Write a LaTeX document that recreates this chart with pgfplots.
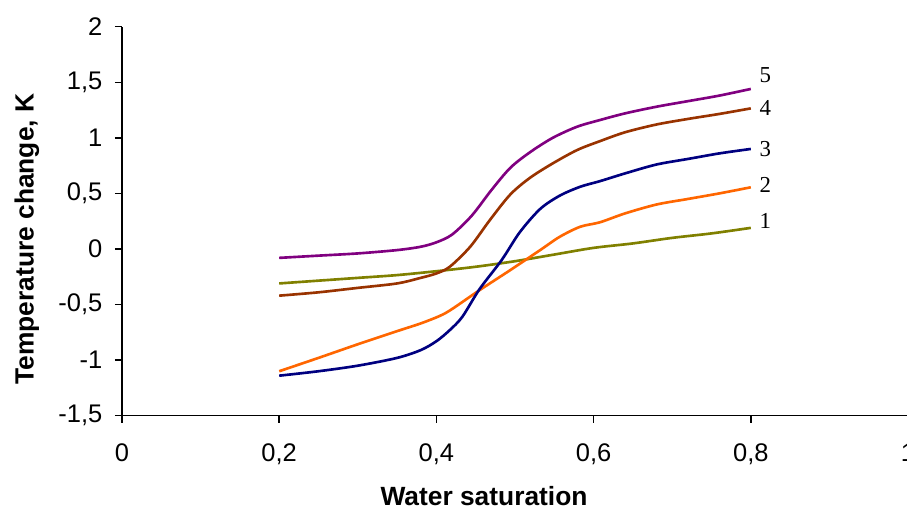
\documentclass[border=0pt]{standalone}
\usepackage{pgfplots}
\pgfplotsset{compat=1.18}
\usepackage{fontspec}
\setmainfont{Liberation Sans}
\newfontfamily\numfont{Liberation Serif}

\definecolor{c1}{RGB}{128,128,0}
\definecolor{c2}{RGB}{255,102,0}
\definecolor{c3}{RGB}{0,0,128}
\definecolor{c4}{RGB}{153,51,0}
\definecolor{c5}{RGB}{128,0,128}

\begin{document}
\begin{tikzpicture}
\begin{axis}[
    scale only axis, width=15.72cm, height=7.78cm,
    xmin=0, xmax=1, ymin=-1.5, ymax=2,
    xtick distance=0.2, ytick distance=0.5,
    axis x line*=bottom, axis y line*=left,
    axis line style={-, line width=0.8pt},
    tick align=outside, major tick length=0.14cm,
    tick style={black, line width=0.8pt},
    /pgf/number format/.cd, use comma, fixed, assume math mode=true,
    /pgfplots/.cd,
    tick label style={font=\fontsize{14.5}{17}\selectfont},
    xticklabel style={yshift=-0.3cm},
    yticklabel style={xshift=-0.13cm},
    xlabel={Water saturation},
    ylabel={Temperature change, K},
    every axis x label/.style={at={(axis description cs:0.4606,0)}, anchor=center, yshift=-1.6cm,
        font=\fontsize{15}{18}\selectfont\bfseries},
    every axis y label/.style={at={(axis description cs:-0.1209,0.454)}, anchor=center, rotate=90,
        font=\fontsize{15}{18}\selectfont\bfseries},
    every axis plot/.append style={line width=1.5pt, smooth, no markers},
    clip=false,
]
% 1
\addplot[c1] coordinates {
(0.2,-0.31) (0.25,-0.285) (0.3,-0.26) (0.35,-0.235) (0.4,-0.20) (0.45,-0.16)
(0.5,-0.11) (0.55,-0.05) (0.6,0.01) (0.65,0.05) (0.7,0.10) (0.75,0.14) (0.8,0.19)
} node[pos=1, anchor=west, xshift=1pt, yshift=0.14cm, text=black, font=\numfont\fontsize{13}{15}\selectfont] {1};
% 2
\addplot[c2] coordinates {
(0.2,-1.10) (0.25,-0.98) (0.303,-0.85) (0.354,-0.73) (0.38,-0.67) (0.405,-0.60)
(0.42,-0.54) (0.455,-0.37) (0.494,-0.19) (0.532,-0.01) (0.557,0.11) (0.583,0.20)
(0.608,0.24) (0.64,0.32) (0.68,0.40) (0.72,0.45) (0.76,0.50) (0.8,0.555)
} node[pos=1, anchor=west, xshift=1pt, yshift=0.04cm, text=black, font=\numfont\fontsize{13}{15}\selectfont] {2};
% 3
\addplot[c3] coordinates {
(0.2,-1.14) (0.25,-1.10) (0.3,-1.05) (0.35,-0.98) (0.38,-0.91) (0.4,-0.83)
(0.417,-0.73) (0.433,-0.61) (0.455,-0.36) (0.483,-0.10) (0.506,0.15) (0.532,0.36)
(0.557,0.48) (0.583,0.56) (0.608,0.61) (0.64,0.68) (0.68,0.76) (0.72,0.81)
(0.76,0.86) (0.8,0.90)
} node[pos=1, anchor=west, xshift=1pt, text=black, font=\numfont\fontsize{13}{15}\selectfont] {3};
% 4
\addplot[c4] coordinates {
(0.2,-0.42) (0.25,-0.39) (0.3,-0.35) (0.35,-0.31) (0.38,-0.26) (0.4,-0.22)
(0.417,-0.16) (0.443,0.02) (0.468,0.26) (0.494,0.49) (0.519,0.64) (0.548,0.77)
(0.579,0.89) (0.608,0.97) (0.64,1.05) (0.68,1.12) (0.72,1.17) (0.76,1.215) (0.8,1.265)
} node[pos=1, anchor=west, xshift=1pt, text=black, font=\numfont\fontsize{13}{15}\selectfont] {4};
% 5
\addplot[c5] coordinates {
(0.2,-0.08) (0.25,-0.06) (0.3,-0.04) (0.35,-0.01) (0.38,0.02) (0.4,0.06)
(0.42,0.13) (0.445,0.30) (0.47,0.53) (0.494,0.73) (0.519,0.87) (0.548,1.0)
(0.579,1.10) (0.608,1.16) (0.64,1.22) (0.68,1.28) (0.72,1.33) (0.76,1.38) (0.8,1.44)
} node[pos=1, anchor=west, xshift=1pt, yshift=0.28cm, text=black, font=\numfont\fontsize{13}{15}\selectfont] {5};
\coordinate (o) at (axis cs:0,-1.5);
\end{axis}
\pgfresetboundingbox
\path[use as bounding box] ([shift={(-2.44cm,-1.886cm)}]o) rectangle ++(18.14cm,10.2cm);
\end{tikzpicture}
\end{document}
